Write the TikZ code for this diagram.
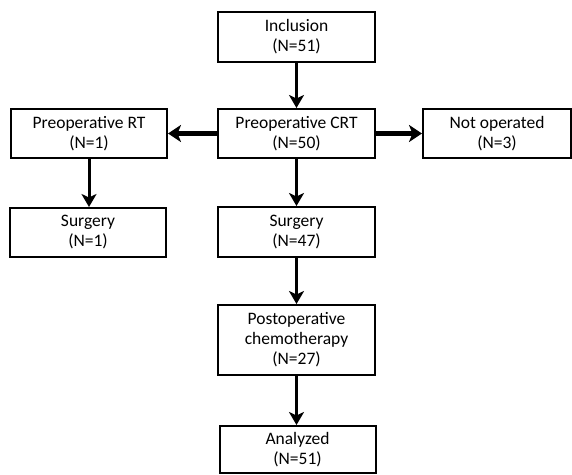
\documentclass[tikz,border=0pt]{standalone}
\usepackage{fontspec}
\setmainfont{Carlito}
\usetikzlibrary{arrows.meta}
\begin{document}
\begin{tikzpicture}[x=1pt,y=-1pt,
  flowbox/.style={draw=black, line width=2pt, fill=white, rectangle, align=center,
    font=\fontsize{17.5}{20}\selectfont, inner sep=0pt, minimum height=49pt},
  varrow/.style={line width=3pt, -{Stealth[length=13pt,width=15pt,inset=3.5pt]}},
  harrow/.style={line width=4.5pt, -{Stealth[length=13pt,width=17pt,inset=3.5pt]}}]
\useasboundingbox (0,0) rectangle (572,474);
\node[flowbox, minimum width=157pt, minimum height=50pt] (incl) at (296.5,37) {Inclusion\\(N=51)};
\node[flowbox, minimum width=157pt] (crt) at (296.5,133.5) {Preoperative CRT\\(N=50)};
\node[flowbox, minimum width=156pt] (rt) at (89,133.5) {Preoperative RT\\(N=1)};
\node[flowbox, minimum width=148pt] (notop) at (497,133.5) {Not operated\\(N=3)};
\node[flowbox, minimum width=156pt] (surgl) at (88,232.5) {Surgery\\(N=1)};
\node[flowbox, minimum width=157pt, minimum height=50pt] (surgc) at (296.5,232) {Surgery\\(N=47)};
\node[flowbox, minimum width=157pt, minimum height=70pt] (post) at (296.5,340) {Postoperative\\chemotherapy\\(N=27)};
\node[flowbox, minimum width=156pt, minimum height=47pt] (anal) at (297.5,449.5) {Analyzed\\(N=51)};
\draw[varrow] (incl.south) -- (crt.north);
\draw[harrow] (crt.west) -- (rt.east);
\draw[harrow] (crt.east) -- (notop.west);
\draw[varrow] (rt.south) -- (surgl.north -| rt.south);
\draw[varrow] (crt.south) -- (surgc.north);
\draw[varrow] (surgc.south) -- (post.north);
\draw[varrow] (post.south) -- (anal.north -| post.south);
\end{tikzpicture}
\end{document}
